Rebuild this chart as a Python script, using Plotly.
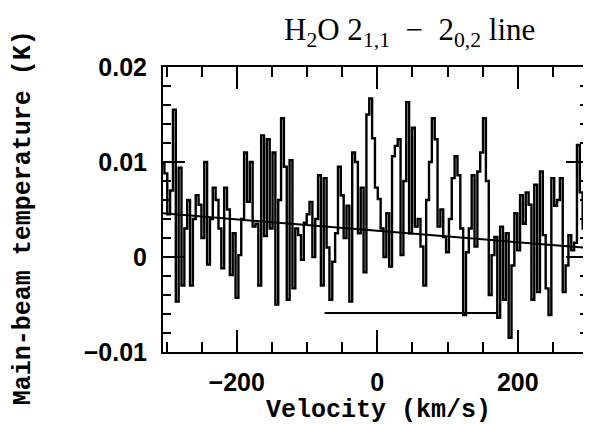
import numpy as np
import plotly.graph_objects as go

# Spectrum: main-beam temperature (K) per channel
v_start = -305.0        # km/s, first channel centre
v_step = 4.05           # km/s, channel width
temperature = [
    0.0098, 0.0088, 0.0045, 0.0070, 0.0155, -0.0047, 0.0094, -0.0030, 0.0030, 0.0060,
    -0.0030, 0.0040, 0.0065, 0.0055, 0.0020, 0.0100, -0.0008, 0.0040, 0.0073, 0.0060,
    0.0030,
    -0.0012, 0.0073, 0.0050, -0.0019, 0.0025, -0.0043, 0.0002, 0.0040, 0.0110, 0.0058,
    0.0100, 0.0032, 0.0035, -0.0030, 0.0128, 0.0022, 0.0124, 0.0030, 0.0110, -0.0050,
    0.0060, 0.0146,
    0.0095, -0.0045, 0.0102, -0.0033, 0.0030, 0.0023, -0.0003, 0.0036, 0.0045, 0.0058,
    0.0000, 0.0040, 0.0086, -0.0030, 0.0083, 0.0010, -0.0045, -0.0005, 0.0025, 0.0095,
    0.0065, 0.0020,
    0.0054, -0.0047, 0.0110, 0.0100, 0.0025, 0.0073, -0.0016, 0.0150, 0.0167, 0.0125,
    0.0073, 0.0061, 0.0030, 0.0000, 0.0046, -0.0010, 0.0106, 0.0117, 0.0124, 0.0002,
    0.0080, 0.0163, 0.0025,
    0.0136, 0.0032, 0.0040, 0.0011, -0.0030, 0.0060, 0.0100, 0.0146, 0.0124, 0.0032,
    0.0050, 0.0021, 0.0005, 0.0040, 0.0083, 0.0106, 0.0086, 0.0030, -0.0061, 0.0005,
    0.0030,
    0.0086, 0.0011, 0.0090, 0.0110, 0.0146, 0.0080, -0.0040, 0.0002, 0.0021, -0.0064,
    0.0032, -0.0045, 0.0025, -0.0085, -0.0009, 0.0046, 0.0007, 0.0065, 0.0035, 0.0068,
    0.0055, -0.0045,
    0.0076, -0.0037, 0.0090, 0.0023, -0.0033, -0.0061, 0.0083, 0.0054, 0.0060, 0.0083,
    -0.0037, -0.0009, 0.0023, 0.0007, 0.0015, 0.0118, 0.0068, 0.0030, 0.0007, 0.0030,
]
velocity = [v_start + v_step * i for i in range(len(temperature))]

# Fitted baseline (straight line)
baseline_v = [-305, 300]
baseline_T = [0.0046, 0.00095]

# Horizontal bar marking a velocity range
range_v = [-75, 170]
range_T = [-0.0059, -0.0059]

x_range = [-305, 300]
y_range = [-0.01, 0.02]
y_tickvals = [-0.01, 0, 0.01, 0.02]
y_ticktext = ["\u22120.01", "0", "0.01", "0.02"]
x_tickvals = [-200, 0, 200]
x_ticktext = ["\u2212200", "0", "200"]

fig = go.Figure()
fig.add_trace(go.Scatter(x=velocity, y=temperature, mode="lines",
                         line=dict(color="black", width=2.4, shape="hvh"),
                         showlegend=False))
fig.add_trace(go.Scatter(x=baseline_v, y=baseline_T, mode="lines",
                         line=dict(color="black", width=2), showlegend=False))
fig.add_trace(go.Scatter(x=range_v, y=range_T, mode="lines",
                         line=dict(color="black", width=2), showlegend=False))

tick_font = dict(family="Liberation Sans", size=25, color="black", weight="bold")
xtitle_font = dict(family="Liberation Mono", size=25, color="black", weight="bold")
ytitle_font = dict(family="Liberation Mono", size=25, color="black", weight="bold")

fig.update_xaxes(range=x_range, tickvals=x_tickvals, ticktext=x_ticktext,
                 ticks="inside", ticklen=22, tickwidth=2, tickcolor="black",
                 minor=dict(dtick=50, tick0=0, ticks="inside", ticklen=10,
                            tickwidth=2, tickcolor="black", showgrid=False),
                 showline=True, linecolor="black", linewidth=2, mirror="allticks",
                 showgrid=False, zeroline=False, tickfont=tick_font,
                 ticklabelstandoff=7, automargin=False)
fig.update_yaxes(range=y_range, tickvals=y_tickvals, ticktext=y_ticktext,
                 ticks="inside", ticklen=22, tickwidth=2, tickcolor="black",
                 minor=dict(dtick=0.002, tick0=0, ticks="inside", ticklen=8,
                            tickwidth=2, tickcolor="black", showgrid=False),
                 showline=True, linecolor="black", linewidth=2, mirror="allticks",
                 showgrid=False, zeroline=False, tickfont=tick_font,
                 ticklabelstandoff=9, automargin=False)

fig.add_annotation(text="H<sub>2</sub>O\u00a02<sub>1,1</sub>\u00a0\u00a0\u2212\u00a0\u00a02<sub>0,2</sub>\u00a0line",
                   xref="paper", yref="paper", x=0.581, y=1.123,
                   xanchor="center", yanchor="middle", showarrow=False,
                   font=dict(family="Liberation Serif", size=31, color="black"))
fig.add_annotation(text="Velocity (km/s)", xref="paper", yref="paper",
                   x=0.508, y=-0.205, xanchor="center", yanchor="middle",
                   showarrow=False, font=xtitle_font)
fig.add_annotation(text="Main-beam temperature (K)", xref="paper", yref="paper",
                   x=-0.329, y=0.47, xanchor="center", yanchor="middle",
                   textangle=-90, showarrow=False, font=ytitle_font)

# The page body adds an 8 px offset, so the figure box is shifted accordingly
fig.update_layout(width=583, height=416, plot_bgcolor="white", paper_bgcolor="white",
                  margin=dict(l=155, r=3, t=59, b=72, autoexpand=False))

fig.write_html("out.html")
